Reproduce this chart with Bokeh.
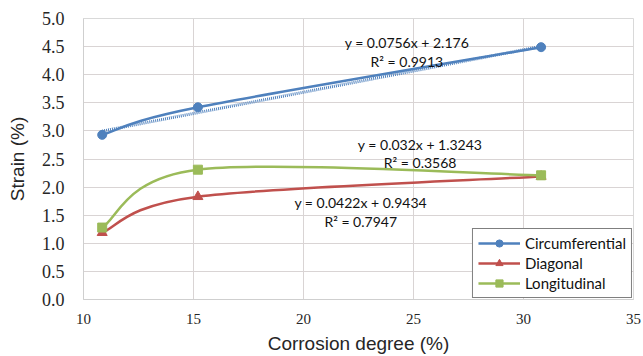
import numpy as np
from bokeh.plotting import figure
from bokeh.models import (FixedTicker, PrintfTickFormatter, Label, Legend, LegendItem,
                          ColumnDataSource, Range1d)
from bokeh.embed import file_html
from bokeh.resources import INLINE

# ---- data ----
corrosion = [10.85, 15.2, 30.8]
circumferential = [2.93, 3.42, 4.49]
diagonal = [1.19, 1.83, 2.19]
longitudinal = [1.28, 2.31, 2.21]

circ_slope, circ_intercept = 0.0756, 2.176
eq_texts = [
    ("y = 0.0756x + 2.176", "R\u00b2 = 0.9913"),
    ("y = 0.032x + 1.3243", "R\u00b2 = 0.3568"),
    ("y = 0.0422x + 0.9434", "R\u00b2 = 0.7947"),
]
eq_pos = [(24.7, 4.58, 4.24), (25.3, 2.76, 2.44), (22.6, 1.72, 1.38)]

x_ticks = [10, 15, 20, 25, 30, 35]
y_ticks = [0.0, 0.5, 1.0, 1.5, 2.0, 2.5, 3.0, 3.5, 4.0, 4.5, 5.0]

BLUE, RED, GREEN = "#4F81BD", "#C0504D", "#9BBB59"

p = figure(width=643, height=356, output_backend="svg", toolbar_location=None,
           x_range=Range1d(10, 35), y_range=Range1d(0, 5),
           min_border_left=83, min_border_right=10, min_border_top=18, min_border_bottom=55)
p.background_fill_color = "white"
p.border_fill_color = "white"
p.outline_line_color = "#d9d9d9"

xax = p.xaxis[0]
yax = p.yaxis[0]
xax.ticker = FixedTicker(ticks=x_ticks)
yax.ticker = FixedTicker(ticks=y_ticks)
yax.formatter = PrintfTickFormatter(format="%.1f")
for ax in (xax, yax):
    ax.major_tick_out = 0
    ax.major_tick_in = 0
    ax.minor_tick_out = 0
    ax.minor_tick_in = 0
    ax.axis_line_color = "#cfcfcf"
    ax.major_label_text_color = "#262626"
    ax.major_label_text_font = "serif"
    ax.axis_label_text_font_style = "normal"
    ax.axis_label_text_color = "#262626"
    ax.axis_label_text_font_size = "19px"
xax.major_label_text_font_size = "15px"
yax.major_label_text_font_size = "18px"
xax.major_label_standoff = 14
yax.major_label_standoff = 19
xax.axis_label = "Corrosion degree (%)"
yax.axis_label = "Strain (%)"
xax.axis_label_standoff = 6
yax.axis_label_standoff = 11
p.xgrid.ticker = FixedTicker(ticks=x_ticks)
p.ygrid.ticker = FixedTicker(ticks=y_ticks)
p.grid.grid_line_color = "#d9d4d4"
p.grid.grid_line_width = 1


def smooth_controls(xs, ys):
    """Excel-like smoothing: cubic Bezier control points (Catmull-Rom, tension 1/6)."""
    xs = np.asarray(xs, float)
    ys = np.asarray(ys, float)
    n = len(xs)
    x0, y0, x1, y1, cx0, cy0, cx1, cy1 = [], [], [], [], [], [], [], []
    for i in range(n - 1):
        im1 = max(i - 1, 0)
        ip2 = min(i + 2, n - 1)
        x0.append(xs[i]); y0.append(ys[i])
        x1.append(xs[i + 1]); y1.append(ys[i + 1])
        cx0.append(xs[i] + (xs[i + 1] - xs[im1]) / 6)
        cy0.append(ys[i] + (ys[i + 1] - ys[im1]) / 6)
        cx1.append(xs[i + 1] - (xs[ip2] - xs[i]) / 6)
        cy1.append(ys[i + 1] - (ys[ip2] - ys[i]) / 6)
    return dict(x0=x0, y0=y0, x1=x1, y1=y1, cx0=cx0, cy0=cy0, cx1=cx1, cy1=cy1)


items = []
series = [("Circumferential", circumferential, BLUE, "circle", 9),
          ("Diagonal", diagonal, RED, "triangle", 10),
          ("Longitudinal", longitudinal, GREEN, "square", 9)]

# trendline for circumferential (dotted)
tx = [min(corrosion), max(corrosion)]
ty = [circ_slope * v + circ_intercept for v in tx]
p.line(tx, ty, line_color=BLUE, line_width=3, line_dash="1 1")

for name, ys, col, marker, size in series:
    src = ColumnDataSource(smooth_controls(corrosion, ys))
    rb = p.bezier(x0="x0", y0="y0", x1="x1", y1="y1", cx0="cx0", cy0="cy0",
                  cx1="cx1", cy1="cy1", source=src, line_color=col, line_width=2.5)
    rs = p.scatter(corrosion, ys, marker=marker, size=size, fill_color=col, line_color=col)
    items.append(LegendItem(label=name, renderers=[rb, rs]))

for (l1, l2), (ex, ey1, ey2) in zip(eq_texts, eq_pos):
    for txt, yy in ((l1, ey1), (l2, ey2)):
        p.add_layout(Label(x=ex, y=yy, text=txt, text_align="center", text_baseline="middle",
                           text_font="Lato", text_font_size="14px", text_color="#111111"))

legend = Legend(items=items, location="bottom_right")
legend.label_text_font = "Lato"
legend.label_text_font_size = "15px"
legend.label_text_color = "#111111"
legend.glyph_width = 42
legend.glyph_height = 18
legend.spacing = 2
legend.padding = 5
legend.margin = 1
legend.label_standoff = 5
legend.label_height = 18
legend.border_line_color = "black"
legend.border_line_width = 1
legend.background_fill_alpha = 1
p.add_layout(legend)

open("out.html", "w").write(file_html(p, INLINE))
